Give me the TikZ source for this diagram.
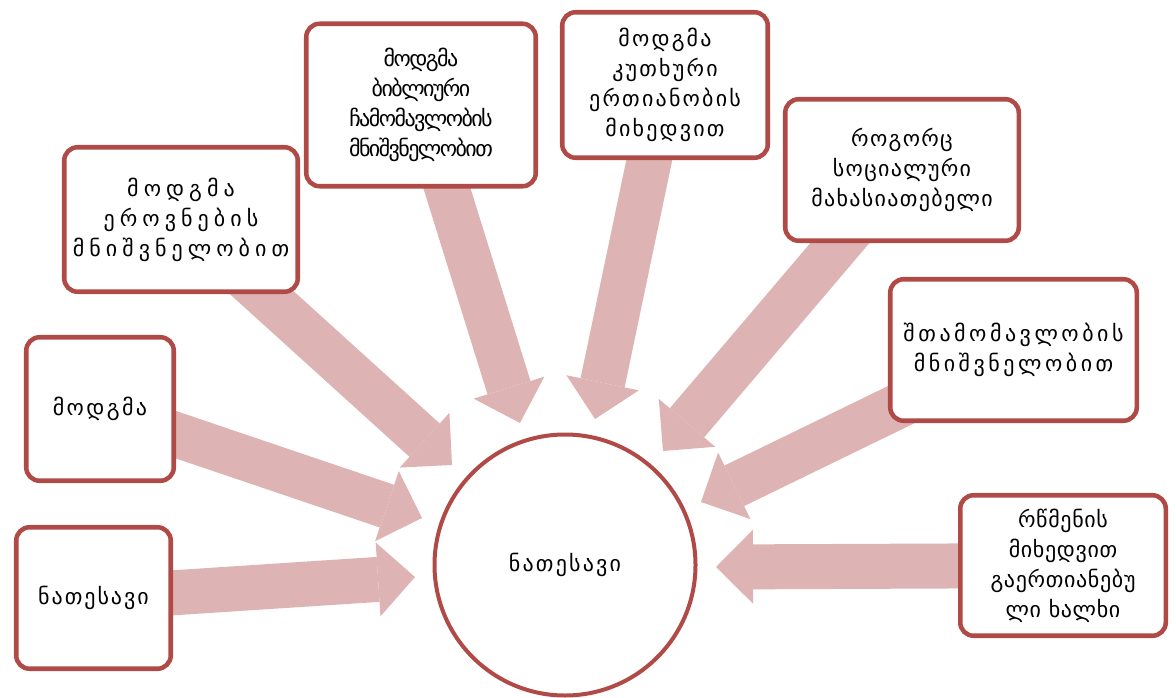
\documentclass[tikz,border=0pt]{standalone}
\usepackage{fontspec}
\newfontfamily\geofont{DejaVu Sans}
\usetikzlibrary{arrows.meta}
\definecolor{boxred}{RGB}{176,74,71}
\definecolor{arrowpink}{RGB}{221,179,179}
\pgfdeclarelayer{back}
\pgfsetlayers{back,main}
\begin{document}
\begin{tikzpicture}[x=0.75pt,y=-0.75pt,
  txt/.style={font=\geofont\fontsize{16.5}{22.5}\selectfont\addfontfeature{LetterSpace=#1}},
  box/.style 2 args={draw=boxred, line width=3.4pt, rounded corners=10pt, fill=white,
    align=center, inner sep=0pt, text=black,
    minimum width=(#1-4.5)*0.75pt, minimum height=(#2-4.5)*0.75pt},
  hub/.style={circle, draw=boxred, line width=3pt, fill=white, inner sep=0pt,
    minimum size=261*0.75pt, text=black},
  flow/.style={draw=arrowpink, line width=33.75pt, line cap=butt,
    -{Triangle[length=27.75pt, width=55.5pt, line width=0pt]}}
]
\useasboundingbox (0,0) rectangle (1176,698);

% centre circle
\node[hub, txt=10] (hub) at (565,565) {ნათესავი};

% surrounding boxes
\node[box={159}{146}, txt=9] (b1) at (93.5,598) {ნათესავი};
\node[box={152}{148}, txt=11] (b2) at (100,409) {მოდგმა};
\node[box={238}{149}, txt=23] (b3) at (181,219.5) {მოდგმა\\ეროვნების\\მნიშვნელობით};
\node[box={234}{167}, txt=-7] (b4) at (421,105) {მოდგმა\\ბიბლიური\\ჩამომავლობის\\მნიშვნელობით};
\node[box={210}{150}, txt=10] (b5) at (665,85) {მოდგმა\\კუთხური\\ერთიანობის\\მიხედვით};
\node[box={238}{146}, txt=6] (b6) at (902,170) {როგორც\\სოციალური\\მახასიათებელი};
\node[box={251}{146}, txt=16] (b7) at (1013.5,350) {შთამომავლობის\\მნიშვნელობით};
\node[box={210}{145}, txt=3] (b8) at (1063,565.5) {რწმენის\\მიხედვით\\გაერთიანებუ\\ლი ხალხი};

% arrow tips near the circle
\coordinate (t1) at (415,577);
\coordinate (t2) at (422,518);
\coordinate (t3) at (452,465);
\coordinate (t4) at (520,423);
\coordinate (t5) at (595,419);
\coordinate (t6) at (663,451);
\coordinate (t7) at (701,502);
\coordinate (t8) at (716,567);

% block arrows behind the boxes
\begin{pgfonlayer}{back}
\foreach \i in {1,...,8} {
  \draw[flow] (b\i.center) -- (t\i);
}
\end{pgfonlayer}
\end{tikzpicture}
\end{document}
